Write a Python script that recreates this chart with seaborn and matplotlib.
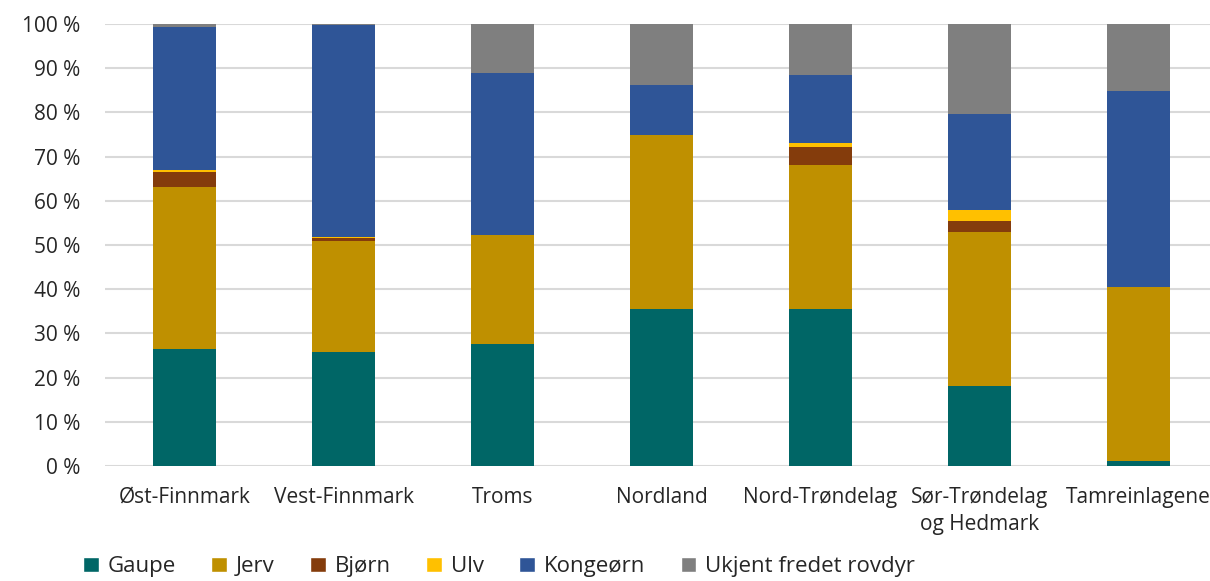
import numpy as np
import pandas as pd
import seaborn as sns
import matplotlib.pyplot as plt
from matplotlib.patches import Patch

# Andel skadeårsak per område (%)
regions = ['Øst-Finnmark', 'Vest-Finnmark', 'Troms', 'Nordland',
           'Nord-Trøndelag', 'Sør-Trøndelag\nog Hedmark', 'Tamreinlagene']
gaupe = [26.5, 25.8, 27.5, 35.5, 35.5, 18.0, 1.2]
jerv = [36.7, 25.0, 24.8, 39.3, 32.7, 35.0, 39.3]
bjorn = [3.3, 0.7, 0.0, 0.0, 4.0, 2.5, 0.0]
ulv = [0.5, 0.4, 0.0, 0.0, 0.9, 2.5, 0.0]
kongeorn = [32.3, 47.9, 36.6, 11.3, 15.4, 21.7, 44.3]
ukjent = [0.7, 0.2, 11.1, 13.9, 11.5, 20.3, 15.2]

series = ['Gaupe', 'Jerv', 'Bjørn', 'Ulv', 'Kongeørn', 'Ukjent fredet rovdyr']
colors = ['#006666', '#BF9000', '#843C0C', '#FFC000', '#2F5597', '#7F7F7F']

df = pd.DataFrame(dict(zip(series, [gaupe, jerv, bjorn, ulv, kongeorn, ukjent])),
                  index=regions)
cum = df.cumsum(axis=1)

sns.set_style('white')
plt.rcParams['font.family'] = ['Open Sans', 'DejaVu Sans']

fig = plt.figure(figsize=(12.10, 5.81), dpi=100)
ax = fig.add_axes([105 / 1210, 1 - 466 / 581, (1218 - 105) / 1210, (466 - 24) / 581])

# stablet: tegn kumulative summer bakfra
for name, col in reversed(list(zip(series, colors))):
    sns.barplot(x=regions, y=cum[name].values, color=col, width=0.4,
                saturation=1, ax=ax, zorder=3, linewidth=0)

ax.set_ylim(0, 100)
ax.set_xlim(-0.5, 6.5)
ax.set_yticks(np.arange(0, 101, 10))
ax.set_yticklabels([f'{v} %' for v in range(0, 101, 10)], fontsize=15, color='#262626')
for lbl in ax.get_xticklabels():
    lbl.set_linespacing(1.4)
ax.tick_params(axis='x', labelsize=15, colors='#262626', length=0, pad=15)
ax.tick_params(axis='y', length=0, pad=18)
ax.grid(axis='y', color='#D9D9D9', linewidth=1.5, zorder=0)
ax.set_axisbelow(True)
sns.despine(ax=ax, left=True, bottom=True, top=True, right=True)

handles = [Patch(facecolor=c, label=s) for s, c in zip(series, colors)]
fig.legend(handles=handles, loc='lower left', bbox_to_anchor=(63 / 1210, -0.028),
           ncol=6, frameon=False, fontsize=16, handlelength=0.7, handleheight=0.7,
           handletextpad=0.4, columnspacing=1.6)

fig.savefig('out.png', dpi=100)
